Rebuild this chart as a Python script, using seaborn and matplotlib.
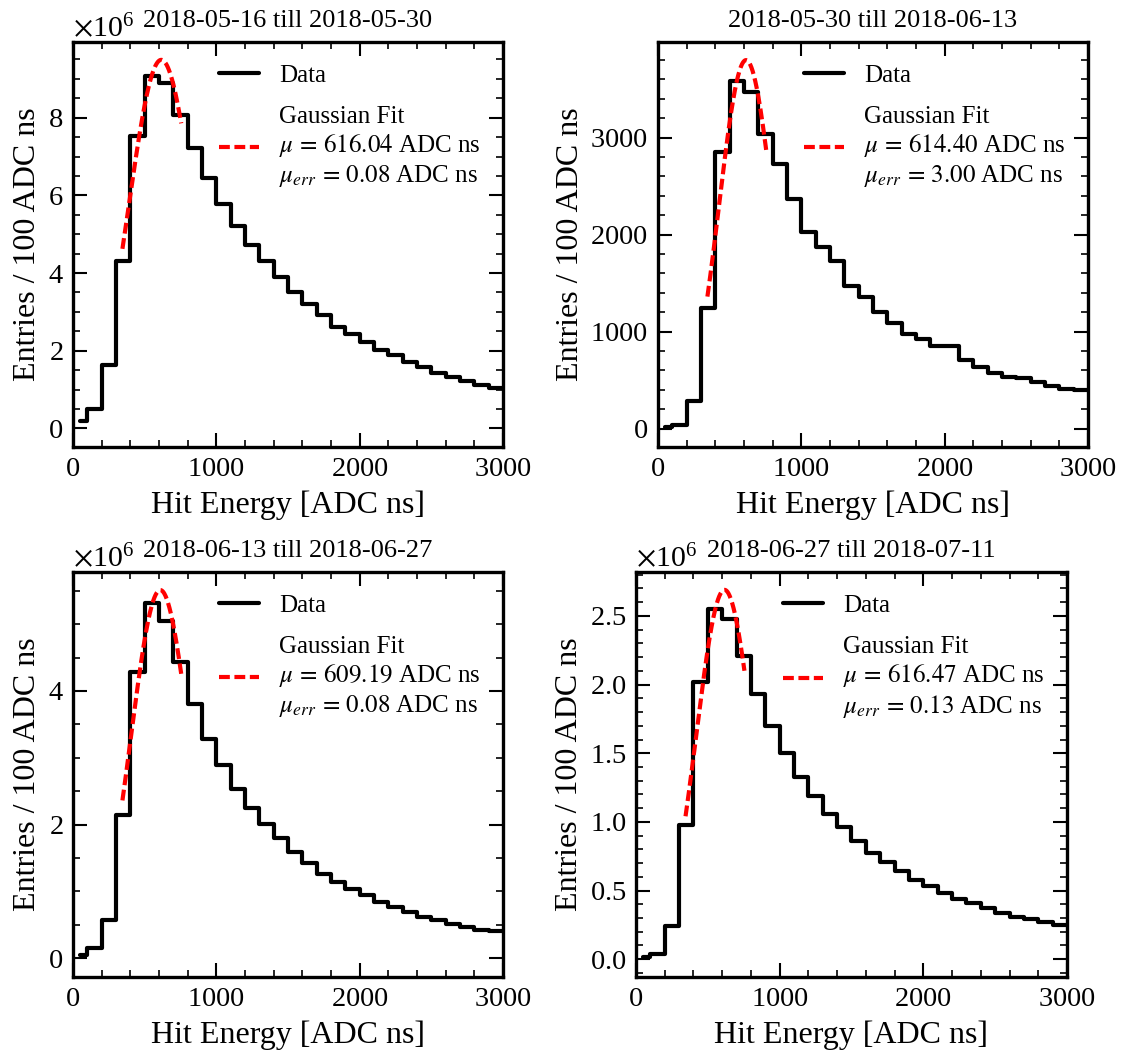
import numpy as np
import pandas as pd
import matplotlib.pyplot as plt
import seaborn as sns
from matplotlib.ticker import MultipleLocator, AutoMinorLocator

# bin edges [ADC ns], first bin starts at 50
edges = [50] + list(range(100, 3001, 100))
centers = [0.5 * (a + b) for a, b in zip(edges[:-1], edges[1:])]

titles = ["2018-05-16 till 2018-05-30", "2018-05-30 till 2018-06-13",
          "2018-06-13 till 2018-06-27", "2018-06-27 till 2018-07-11"]

# entries per bin
counts_0516 = np.array([0.19, 0.51, 1.62, 4.30, 7.52, 9.08, 8.89, 8.08, 7.21, 6.45,
                        5.77, 5.21, 4.73, 4.30, 3.91, 3.50, 3.21, 2.91, 2.62, 2.44,
                        2.22, 2.01, 1.88, 1.71, 1.58, 1.43, 1.32, 1.22, 1.11, 1.03]) * 1e6
counts_0530 = np.array([17, 34, 281, 1241, 2852, 3582, 3469, 3034, 2732, 2365,
                        2023, 1875, 1731, 1474, 1361, 1200, 1087, 970, 926, 847,
                        850, 710, 634, 573, 531, 521, 480, 435, 411, 401])
counts_0613 = np.array([0.05, 0.15, 0.58, 2.14, 4.29, 5.31, 5.05, 4.43, 3.81, 3.28,
                        2.89, 2.54, 2.25, 2.01, 1.80, 1.59, 1.43, 1.26, 1.14, 1.04,
                        0.95, 0.85, 0.77, 0.70, 0.62, 0.57, 0.52, 0.47, 0.43, 0.41]) * 1e6
counts_0627 = np.array([0.015, 0.04, 0.24, 0.98, 2.02, 2.55, 2.48, 2.21, 1.93, 1.70,
                        1.50, 1.33, 1.19, 1.06, 0.96, 0.86, 0.77, 0.71, 0.64, 0.58,
                        0.53, 0.48, 0.44, 0.41, 0.37, 0.34, 0.31, 0.29, 0.27, 0.25]) * 1e6
all_counts = [counts_0516, counts_0530, counts_0613, counts_0627]

# gaussian fit results
fit_mu = [616.04, 614.40, 609.19, 616.47]
fit_mu_err = [0.08, 3.00, 0.08, 0.13]
fit_amp = [9.49e6, 3798, 5.51e6, 2.69e6]
fit_sigma = [226, 188, 203, 197]
fit_range = (345, 755)

ylims = [(-0.48e6, 9.95e6), (-190, 3985), (-0.28e6, 5.78e6), (-0.13e6, 2.82e6)]
ysteps = [2e6, 1000, 2e6, 0.5e6]
positions = [[0.0647, 0.5763, 0.3812, 0.3839], [0.5833, 0.5763, 0.3812, 0.3839],
             [0.0647, 0.0739, 0.3812, 0.3839], [0.5638, 0.0739, 0.3821, 0.3839]]

sns.set_style("ticks")
plt.rcParams["font.family"] = ["Liberation Serif", "DejaVu Serif"]
plt.rcParams["mathtext.fontset"] = "stix"
plt.rcParams["axes.formatter.use_mathtext"] = True
plt.rcParams["xtick.labelsize"] = 20.5
plt.rcParams["ytick.labelsize"] = 20.5
plt.rcParams["axes.linewidth"] = 2.4
plt.rcParams["axes.edgecolor"] = "black"
plt.rcParams["xtick.color"] = "black"
plt.rcParams["ytick.color"] = "black"
plt.rcParams["text.color"] = "black"
plt.rcParams["axes.labelcolor"] = "black"

fig = plt.figure(figsize=(11.28, 10.55), dpi=100)

for i in range(4):
    ax = fig.add_axes(positions[i])
    hist = pd.DataFrame({"energy": centers, "entries": all_counts[i]})
    sns.histplot(data=hist, x="energy", weights="entries", bins=edges, element="step",
                 fill=False, color="black", linewidth=3, label="Data", ax=ax)

    xf = np.linspace(fit_range[0], fit_range[1], 200)
    yf = fit_amp[i] * np.exp(-0.5 * ((xf - fit_mu[i]) / fit_sigma[i]) ** 2)
    lab = ("Gaussian Fit\n$\\mu\\,=\\,%.2f$ ADC ns\n$\\mu_{err}\\,=\\,%.2f$ ADC ns"
           % (fit_mu[i], fit_mu_err[i]))
    sns.lineplot(x=xf, y=yf, color="red", linewidth=3, linestyle=(0, (2.6, 1.1)),
                 label=lab, ax=ax)

    ax.set_xlim(0, 3000)
    ax.set_ylim(*ylims[i])
    ax.xaxis.set_major_locator(MultipleLocator(1000))
    ax.yaxis.set_major_locator(MultipleLocator(ysteps[i]))
    ax.xaxis.set_minor_locator(AutoMinorLocator())
    ax.yaxis.set_minor_locator(AutoMinorLocator())
    ax.tick_params(which="both", direction="in", top=True, right=True, pad=7)
    ax.tick_params(which="major", length=10, width=1.5)
    ax.tick_params(which="minor", length=5, width=1.2)
    ax.yaxis.get_offset_text().set_fontsize(21.5)

    ax.set_xlabel("Hit Energy [ADC ns]", fontsize=23, labelpad=6)
    ax.set_ylabel("Entries / 100 ADC ns", fontsize=23)
    ax.set_title(titles[i], fontsize=19, pad=11)
    ax.legend(loc="upper right", frameon=False, fontsize=18, handlelength=1.6,
              labelspacing=0.75)

plt.savefig("out.png", dpi=100)
